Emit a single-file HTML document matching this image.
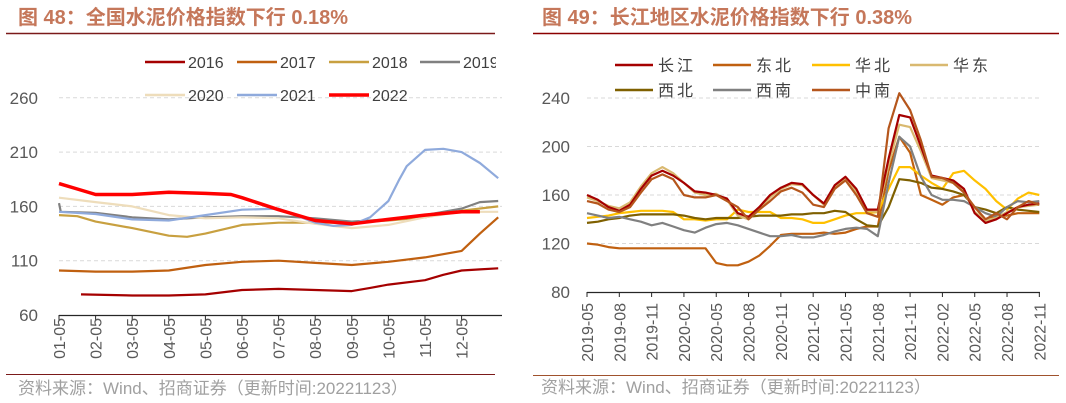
<!DOCTYPE html>
<html><head><meta charset="utf-8"><style>
body{margin:0;background:#fff;}
svg{display:block;font-family:"Liberation Sans","Noto Sans CJK SC",sans-serif;}
</style></head><body>
<svg id="s" width="1066" height="403" viewBox="0 0 1066 403">
<text x="18" y="24" font-size="20" font-weight="bold" fill="#C5775A">图 48：全国水泥价格指数下行 0.18%</text>
<line x1="6" y1="33.5" x2="495" y2="33.5" stroke="#7B1A1A" stroke-width="1.5"/>
<text x="542" y="24" font-size="20" font-weight="bold" fill="#C5775A">图 49：长江地区水泥价格指数下行 0.38%</text>
<line x1="533" y1="33.5" x2="1059" y2="33.5" stroke="#8B0000" stroke-width="1.5"/>
<line x1="6" y1="374.5" x2="495" y2="374.5" stroke="#7B1A1A" stroke-width="1"/>
<line x1="533" y1="375.5" x2="1059" y2="375.5" stroke="#A0522D" stroke-width="1"/>
<text x="18" y="394" font-size="17" fill="#A0A0A0">资料来源：Wind、招商证券（更新时间:20221123）</text>
<text x="541" y="393" font-size="17" fill="#A0A0A0">资料来源：Wind、招商证券（更新时间:20221123）</text>
<g id="L"></g>
<g id="R"></g>
</svg>
<script>
// ---- Left chart data (x = months from 01-05) ----
const lTicks = ["01-05","02-05","03-05","04-05","05-05","06-05","07-05","08-05","09-05","10-05","11-05","12-05"];
const lYTicks = [60,110,160,210,260];
const lNames = ["2016","2017","2018","2019","2020","2021","2022"];
const lColors = ["#A50000","#C06010","#C8A040","#808080","#EEDDBB","#8FAADC","#FF0000"];
const x2016 = [0.6,2,3,4,5,6,7,8,8.5,9,10,10.5,11,11.5,12];
const v2016 = [79,78,78,79,83,84,83,82,85,88,92,97,101,102,103];
const x2017 = [0,1,2,3,4,5,6,7,8,9,10,11,11.5,12];
const v2017 = [101,100,100,101,106,109,110,108,106,109,113,119,135,150];
const x2018 = [0,0.5,1,2,3,3.5,4,5,6,7,8,9,10,11,12];
const v2018 = [152,151,146,140,133,132,135,143,145,145,145,147,150,156,160];
const x2019 = [0,0.05,1,2,3,4,5,6,7,8,9,10,11,11.5,12];
const v2019 = [163,155,154,150,148,150,151,151,149,146,148,152,158,164,165];
const x2020 = [0,1,2,3,4,5,6,7,8,9,10,11,12];
const v2020 = [168,164,160,152,149,150,149,144,140,143,150,155,155];
const x2021 = [0,1,2,3,4,5,6,7,7.5,8,8.5,9,9.3,9.5,10,10.5,11,11.5,12];
const v2021 = [155,153,148,147,152,157,158,145,142,143,150,165,185,197,212,213,210,200,186];
const x2022 = [0,0.5,1,2,3,4,4.7,5,6,7,8,9,10,11,11.5];
const v2022 = [181,176,171,171,173,172,171,168,157,147,144,148,152,155,155];

// ---- Right chart data (x = months from 2019-05) ----
const rTicks = ["2019-05","2019-08","2019-11","2020-02","2020-05","2020-08","2020-11","2021-02","2021-05","2021-08","2021-11","2022-02","2022-05","2022-08","2022-11"];
const rYTicks = [80,120,160,200,240];
const rNames = ["长江","东北","华北","华东","西北","西南","中南"];
const rColors = ["#A50000","#C06010","#FFC000","#D9B970","#7F6000","#808080","#B5561C"];
const sCJ = [160,156,150,147,152,165,176,180,176,170,163,162,160,157,145,142,150,160,166,170,169,160,153,168,175,165,148,148,190,226,224,200,176,174,172,165,145,137,140,145,150,152,153];
const sDB = [120,119,117,116,116,116,116,116,116,116,116,116,104,102,102,105,110,118,127,128,128,128,129,128,129,132,134,134,180,208,195,160,156,152,158,160,150,140,143,143,145,145,145];
const sHB = [141,142,143,145,146,147,147,147,146,140,140,139,140,140,148,146,146,146,141,141,140,137,137,140,143,145,145,146,165,183,183,176,170,165,178,180,172,165,155,148,157,162,160];
const sHD = [158,155,151,149,154,167,178,183,178,170,162,160,161,156,143,140,148,158,165,169,168,160,152,166,173,163,147,146,185,218,216,196,174,172,170,163,146,139,141,146,150,151,152];
const sXB = [137,138,140,141,143,144,144,144,144,143,141,140,141,141,141,142,143,143,143,144,144,145,145,147,146,140,135,134,150,173,172,170,166,165,163,160,150,148,145,150,148,147,146];
const sXN = [145,143,141,142,140,138,135,137,134,131,129,133,136,137,135,132,129,126,126,127,125,125,127,130,132,133,132,126,170,208,200,175,160,156,156,155,150,145,142,150,155,154,155];
const sZN = [155,153,148,146,150,162,173,177,173,160,158,158,160,155,150,140,148,155,163,166,162,152,150,165,172,160,145,142,215,244,230,205,175,174,170,162,150,140,145,140,150,155,152];

const NS="http://www.w3.org/2000/svg";
function mk(tag,attrs,parent){const e=document.createElementNS(NS,tag);for(const k in attrs)e.setAttribute(k,attrs[k]);parent.appendChild(e);return e;}

// Left axes
const L=document.getElementById('L');
const lx=m=>59+m*36.6;
const ly=v=>315-(v-60)*54.3/50;
lYTicks.forEach(t=>{
  if(t>60){const g=mk('line',{x1:59,x2:502,y1:ly(t),y2:ly(t),stroke:'#D9D9D9','stroke-dasharray':'4 3'},L);
  
  }
  const tx=mk('text',{x:38,y:ly(t)+6,'font-size':17,fill:'#595959','text-anchor':'end'},L);tx.textContent=t;
  
  
});
const lax=mk('line',{x1:59,x2:502,y1:315.5,y2:315.5,stroke:'#262626','stroke-width':1.2},L);


lTicks.forEach((t,i)=>{
  mk('line',{x1:lx(i),x2:lx(i),y1:315,y2:320,stroke:'#262626'},L);
  const tx=mk('text',{transform:`translate(${lx(i)+6},318) rotate(-90)`,'font-size':16,fill:'#595959','text-anchor':'end'},L);tx.textContent=t;
  
  
});
const lXs=[x2016,x2017,x2018,x2019,x2020,x2021,x2022];
const lVs=[v2016,v2017,v2018,v2019,v2020,v2021,v2022];
lNames.forEach((n,i)=>{
  const d=lXs[i].map((x,j)=>(j?'L':'M')+lx(x).toFixed(1)+' '+ly(lVs[i][j]).toFixed(1)).join(' ');
  const p=mk('path',{d:d,fill:'none',stroke:lColors[i],'stroke-width':n==='2022'?3.5:2.2,'stroke-linejoin':'round'},L);
  
  
});
// Left legend
const lLeg=[[145,62],[237,62],[329,62],[420,62],[145,95],[237,95],[329,95]];
lNames.forEach((n,i)=>{
  const [x,y]=lLeg[i];
  const g=mk('g',{},L);
  
  
  mk('line',{x1:x,x2:x+40,y1:y,y2:y,stroke:lColors[i],'stroke-width':n==='2022'?3.5:2.5},g);
  const t=mk('text',{x:x+43,y:y+6,'font-size':16,fill:'#404040'},g);t.textContent=n;
});
mk('rect',{x:496,y:40,width:20,height:40,fill:'#fff'},L);

// Right axes
const R=document.getElementById('R');
const rx=m=>587+m*10.77;
const ry=v=>292-(v-80)*48.5/40;
rYTicks.forEach(t=>{
  if(t>80){const g=mk('line',{x1:587,x2:1040,y1:ry(t),y2:ry(t),stroke:'#D9D9D9','stroke-dasharray':'4 3'},R);
  
  }
  const tx=mk('text',{x:570,y:ry(t)+6,'font-size':17,fill:'#595959','text-anchor':'end'},R);tx.textContent=t;
  
  
});
const rax=mk('line',{x1:587,x2:1040,y1:292.5,y2:292.5,stroke:'#262626','stroke-width':1.2},R);


rTicks.forEach((t,i)=>{
  mk('line',{x1:rx(i*3),x2:rx(i*3),y1:292,y2:297,stroke:'#262626'},R);
  const tx=mk('text',{transform:`translate(${rx(i*3)+6},303) rotate(-90)`,'font-size':16,fill:'#595959','text-anchor':'end'},R);tx.textContent=t;
  
  
});
const rVs=[sCJ,sDB,sHB,sHD,sXB,sXN,sZN];
const order=[1,2,4,5,3,0,6];
order.forEach(i=>{
  const d=rVs[i].map((v,j)=>(j?'L':'M')+rx(j).toFixed(1)+' '+ry(v).toFixed(1)).join(' ');
  const p=mk('path',{d:d,fill:'none',stroke:rColors[i],'stroke-width':2.2,'stroke-linejoin':'round'},R);
  
  
});
const rLeg=[[615,65],[713,65],[812,65],[910,65],[615,90],[713,90],[812,90]];
rNames.forEach((n,i)=>{
  const [x,y]=rLeg[i];
  const g=mk('g',{},R);
  
  
  mk('line',{x1:x,x2:x+38,y1:y,y2:y,stroke:rColors[i],'stroke-width':2.5},g);
  const t=mk('text',{x:x+43,y:y+6,'font-size':16,fill:'#404040','letter-spacing':'3'},g);t.textContent=n;
});
</script>
</body></html>
